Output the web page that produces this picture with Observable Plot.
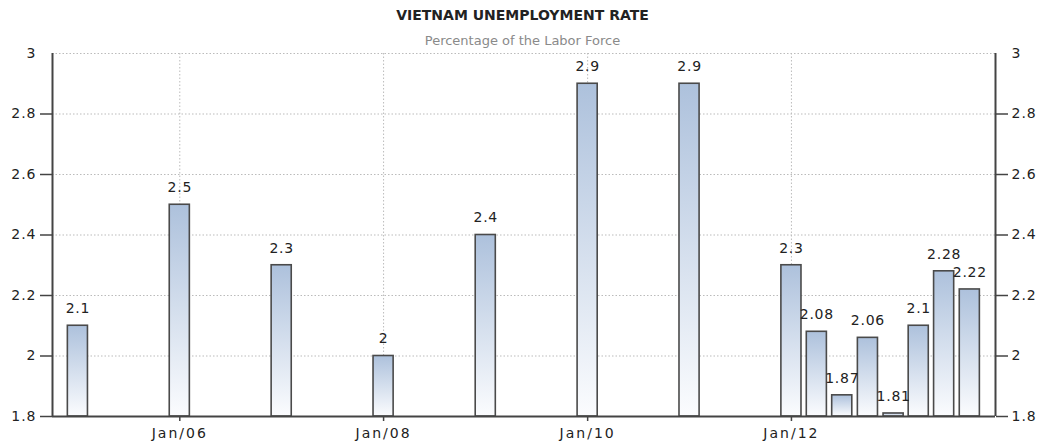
<!DOCTYPE html>
<html>
<head>
<meta charset="utf-8">
<script src="https://cdn.jsdelivr.net/npm/d3@7"></script>
<script src="https://cdn.jsdelivr.net/npm/@observablehq/plot@0.6"></script>
<style>
  body { margin: 0; background: #fff; width: 1045px; height: 448px; overflow: hidden; }
  #head { position: relative; height: 46px; width: 1045px; }
  #title { position: absolute; top: 7px; left: 0; width: 1045px; text-align: center; line-height: 18px;
    font: bold 14px "DejaVu Sans", sans-serif; color: #222; }
  #subtitle { position: absolute; top: 33px; left: 0; width: 1045px; text-align: center; line-height: 18px;
    font: 13px "DejaVu Sans", sans-serif; color: #8a8a8a; }
  #chart svg { display: block; }
  #chart g[aria-label="y-axis tick label"] text { letter-spacing: 1px; }
  #chart g[aria-label="x-axis tick label"] text { letter-spacing: 2px; }
  #chart g[aria-label="text"] text { letter-spacing: 0.75px; }
</style>
</head>
<body>
<div id="head">
  <div id="title">VIETNAM UNEMPLOYMENT RATE</div>
  <div id="subtitle">Percentage of the Labor Force</div>
</div>
<div id="chart"></div>
<script>
const periods = ["2005-01", "2006-01", "2007-01", "2008-01", "2009-01", "2010-01", "2011-01",
  "2012-01", "2012-04", "2012-07", "2012-10", "2013-01", "2013-04", "2013-07", "2013-10"];
const rates = [2.1, 2.5, 2.3, 2.0, 2.4, 2.9, 2.9, 2.3, 2.08, 1.87, 2.06, 1.81, 2.1, 2.28, 2.22];
const yTicks = [1.8, 2, 2.2, 2.4, 2.6, 2.8];
const yTopTick = [3];
const xTickYears = ["2006-01", "2008-01", "2010-01", "2012-01"];

const parse = d3.utcParse("%Y-%m");
const data = periods.map((p, i) => ({date: parse(p), value: rates[i]}));
const xTicks = xTickYears.map(parse);
const xDomain = [new Date(Date.UTC(2004, 9, 2)), new Date(Date.UTC(2014, 0, 1))];
const half = 36; // days, half bar width
const fmt = d3.utcFormat("%b/%y");
const yfmt = d => String(d);
const font = "'DejaVu Sans', sans-serif";

const plot = Plot.plot({
  width: 1045,
  height: 402,
  marginTop: 7,
  marginBottom: 32,
  marginLeft: 52,
  marginRight: 50,
  style: {fontFamily: font, fontSize: "13px", color: "#222", background: "#fff"},
  x: {type: "utc", domain: xDomain},
  y: {domain: [1.8, 3]},
  marks: [
    Plot.gridY([...yTicks, ...yTopTick], {stroke: "#bbb", strokeOpacity: 1, strokeDasharray: "1.5,2"}),
    Plot.gridX(xTicks, {stroke: "#bbb", strokeOpacity: 1, strokeDasharray: "1.5,2"}),
    Plot.rect(data, {
      x1: d => d3.utcDay.offset(d.date, -half),
      x2: d => d3.utcDay.offset(d.date, half),
      y1: 1.8,
      y2: "value",
      fill: "url(#barGrad)",
      stroke: "#4a4a4a",
      strokeWidth: 1.6
    }),
    Plot.text(data, {
      x: "date", y: "value", text: d => String(d.value),
      dy: -17, fontSize: 14, fill: "#222"
    }),
    Plot.ruleX(xDomain, {stroke: "#444", strokeWidth: 2}),
    Plot.ruleY([1.8], {stroke: "#444", strokeWidth: 2}),
    Plot.axisY(yTicks, {anchor: "left", tickSize: 12, tickPadding: 4, stroke: "#444", strokeWidth: 1.5, fontSize: 14, fill: "#222", tickFormat: yfmt, label: null}),
    Plot.axisY(yTopTick, {anchor: "left", tickSize: 0, tickPadding: 16, fontSize: 14, fill: "#222", tickFormat: yfmt, label: null}),
    Plot.axisY(yTicks, {anchor: "right", tickSize: 12, tickPadding: 4, stroke: "#444", strokeWidth: 1.5, fontSize: 14, fill: "#222", tickFormat: yfmt, label: null}),
    Plot.axisY(yTopTick, {anchor: "right", tickSize: 0, tickPadding: 16, fontSize: 14, fill: "#222", tickFormat: yfmt, label: null}),
    Plot.axisX(xTicks, {anchor: "bottom", tickSize: 5, tickPadding: 7, stroke: "#444", strokeWidth: 1.5, tickFormat: fmt, fontSize: 14, fill: "#222", label: null})
  ]
});

const svg = d3.select(plot);
const defs = svg.insert("defs", ":first-child");
const g = defs.append("linearGradient").attr("id", "barGrad").attr("x1", 0).attr("y1", 0).attr("x2", 0).attr("y2", 1);
g.append("stop").attr("offset", "0%").attr("stop-color", "#adc1dc");
g.append("stop").attr("offset", "100%").attr("stop-color", "#fbfcfe");

document.getElementById("chart").appendChild(plot);
</script>
</body>
</html>
